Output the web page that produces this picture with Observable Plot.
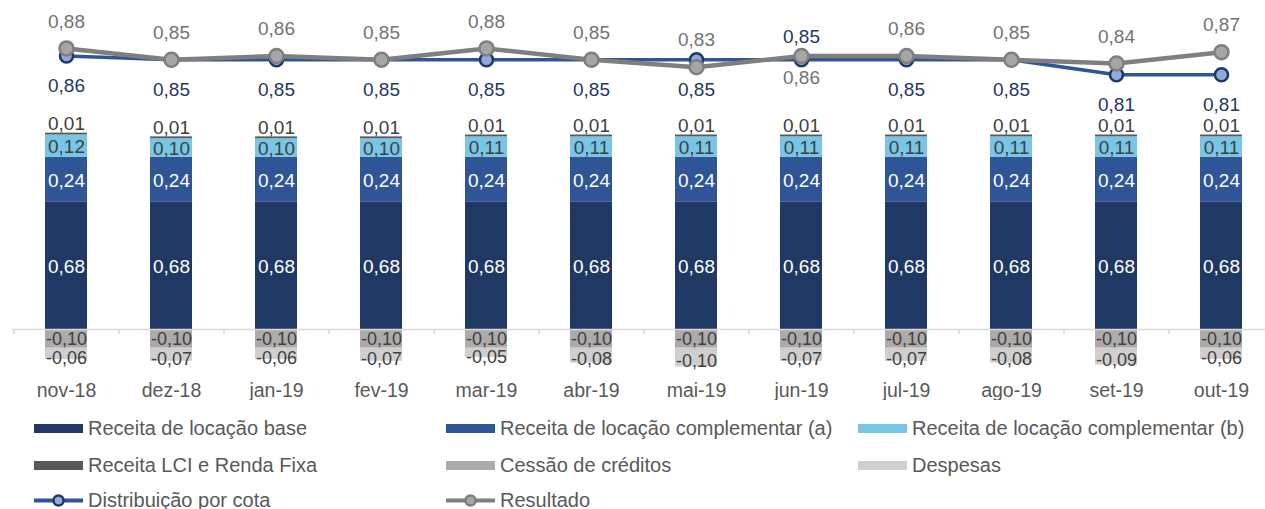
<!DOCTYPE html>
<html><head><meta charset="utf-8">
<script src="https://cdn.jsdelivr.net/npm/d3@7"></script>
<script src="https://cdn.jsdelivr.net/npm/@observablehq/plot@0.6"></script>
<style>
body{margin:0;background:#fff;font-family:"Liberation Sans",Arial,sans-serif;}
#chart{position:relative;width:1265px;height:509px;overflow:hidden;background:#fff}
#legend{position:relative;width:1265px;height:109px}
.leg{position:absolute;display:flex;align-items:center;height:26px;font-size:20px;color:#595959;white-space:nowrap}
.leg span{margin-left:5px}
</style></head><body><div id="chart"></div>
<script>
// ---- data ----
const months = ["nov-18","dez-18","jan-19","fev-19","mar-19","abr-19","mai-19","jun-19","jul-19","ago-19","set-19","out-19"];
const receitaBase = [0.68,0.68,0.68,0.68,0.68,0.68,0.68,0.68,0.68,0.68,0.68,0.68];
const receitaCompA = [0.24,0.24,0.24,0.24,0.24,0.24,0.24,0.24,0.24,0.24,0.24,0.24];
const receitaCompB = [0.12,0.10,0.10,0.10,0.11,0.11,0.11,0.11,0.11,0.11,0.11,0.11];
const receitaLCI = [0.01,0.01,0.01,0.01,0.01,0.01,0.01,0.01,0.01,0.01,0.01,0.01];
const cessaoCreditos = [-0.10,-0.10,-0.10,-0.10,-0.10,-0.10,-0.10,-0.10,-0.10,-0.10,-0.10,-0.10];
const despesas = [-0.06,-0.07,-0.06,-0.07,-0.05,-0.08,-0.10,-0.07,-0.07,-0.08,-0.09,-0.06];
const distribuicao = [0.86,0.85,0.85,0.85,0.85,0.85,0.85,0.85,0.85,0.85,0.81,0.81];
const resultado = [0.88,0.85,0.86,0.85,0.88,0.85,0.83,0.86,0.86,0.85,0.84,0.87];
const seriesNames = ["Receita de locação base","Receita de locação complementar (a)","Receita de locação complementar (b)","Receita LCI e Renda Fixa","Cessão de créditos","Despesas"];
const seriesValues = [receitaBase, receitaCompA, receitaCompB, receitaLCI, cessaoCreditos, despesas];
const seriesColors = ["#1F3864","#2F5597","#78C6E6","#595959","#AEAAAA","#D0CECE"];
const labelColors = ["#FFFFFF","#FFFFFF","#404040",null,null,null];
const lineNames = ["Distribuição por cota","Resultado"];
const flippedLabelMonths = ["jun-19"];

// ---- build ----
const fmt = v => v.toFixed(2).replace(".", ",");
const rows = [];
seriesNames.forEach((s, k) => months.forEach((m, i) => rows.push({month: m, k, serie: s, value: seriesValues[k][i]})));
const posRows = rows.filter(d => d.value >= 0);
const idx = d3.range(months.length);
const topOf = i => receitaBase[i] + receitaCompA[i] + receitaCompB[i] + receitaLCI[i];
// secondary (line) axis mapped onto the bar axis
const ls = d3.scaleLinear().domain([0.81, 0.88]).range([1.362, 1.503]);
const normal = idx.filter(i => !flippedLabelMonths.includes(months[i]));
const flipped = idx.filter(i => flippedLabelMonths.includes(months[i]));

const plot = Plot.plot({
  width: 1265, height: 400,
  marginLeft: 12, marginRight: 0, marginTop: 0, marginBottom: 17,
  style: {fontFamily: "'Liberation Sans', Arial, sans-serif", fontSize: "19px", background: "white", color: "#595959"},
  x: {type: "band", domain: months, range: [13.5, 1273.5], paddingInner: 0.6, paddingOuter: 0.3, align: 0.5, label: null},
  y: {domain: [0, 1], range: [329, 142], axis: null},
  color: {type: "identity"},
  marks: [
    Plot.barY(rows, {x: "month", y: "value", z: "serie", fill: d => seriesColors[d.k]}),
    Plot.ruleY([0], {stroke: "#D9D9D9", strokeWidth: 1.5}),
    Plot.ruleX(months, {x: d => d, y1: 0, y2: -0.028, dx: -52.5, stroke: "#D9D9D9", strokeWidth: 1.5}),
    Plot.text(posRows, Plot.stackY({x: "month", y: "value", z: "serie",
      text: d => labelColors[d.k] ? fmt(d.value) : null,
      fill: d => labelColors[d.k] || "#404040", dy: 1})),
    Plot.text(idx, {x: i => months[i], y: i => topOf(i), text: i => fmt(receitaLCI[i]), fill: "#404040", dy: -9}),
    // negative stack labels
    Plot.text(idx, {x: i => months[i], y: i => cessaoCreditos[i] / 2, text: i => fmt(cessaoCreditos[i]), fill: "#404040", fontSize: 18, dy: 0}),
    Plot.text(idx, {x: i => months[i], y: i => cessaoCreditos[i] + despesas[i] / 2, text: i => fmt(despesas[i]), fill: "#404040", fontSize: 18, dy: 4}),
    Plot.axisX({tickSize: 0, tickPadding: 0, fontSize: 19.5, label: null}),
    // Distribuição por cota
    Plot.line(idx, {x: i => months[i], y: i => ls(distribuicao[i]), stroke: "#2F5597", strokeWidth: 3.5}),
    Plot.dot(idx, {x: i => months[i], y: i => ls(distribuicao[i]), r: 6.5, fill: "#8FAADC", stroke: "#1F3864", strokeWidth: 2.5}),
    // Resultado
    Plot.line(idx, {x: i => months[i], y: i => ls(resultado[i]), stroke: "#7F7F7F", strokeWidth: 4.5}),
    Plot.dot(idx, {x: i => months[i], y: i => ls(resultado[i]), r: 7, fill: "#A6A6A6", stroke: "#7F7F7F", strokeWidth: 2.5}),
    Plot.text(normal, {x: i => months[i], y: i => ls(resultado[i]), text: i => fmt(resultado[i]), fill: "#737373", dy: -27}),
    Plot.text(flipped, {x: i => months[i], y: i => ls(resultado[i]), text: i => fmt(resultado[i]), fill: "#737373", dy: 22}),
    Plot.text(normal, {x: i => months[i], y: i => ls(distribuicao[i]), text: i => fmt(distribuicao[i]), fill: "#1F3864", dy: 30}),
    Plot.text(flipped, {x: i => months[i], y: i => ls(distribuicao[i]), text: i => fmt(distribuicao[i]), fill: "#1F3864", dy: -23})
  ]
});
const chart = document.getElementById("chart");
chart.appendChild(plot);

// ---- legend ----
const legend = document.createElement("div");
legend.id = "legend";
const legItems = [
  {name: seriesNames[0], type: "bar", color: seriesColors[0], col: 0, row: 0},
  {name: seriesNames[1], type: "bar", color: seriesColors[1], col: 1, row: 0},
  {name: seriesNames[2], type: "bar", color: seriesColors[2], col: 2, row: 0},
  {name: seriesNames[3], type: "bar", color: seriesColors[3], col: 0, row: 1},
  {name: seriesNames[4], type: "bar", color: seriesColors[4], col: 1, row: 1},
  {name: seriesNames[5], type: "bar", color: seriesColors[5], col: 2, row: 1},
  {name: lineNames[0], type: "line", color: "#2F5597", fill: "#8FAADC", mstroke: "#1F3864", col: 0, row: 2},
  {name: lineNames[1], type: "line", color: "#7F7F7F", fill: "#A6A6A6", mstroke: "#7F7F7F", col: 1, row: 2}
];
const colX = [34, 446, 858];
const rowY = [15, 52, 87];
for (const it of legItems) {
  const d = document.createElement("div");
  d.className = "leg";
  d.style.left = colX[it.col] + "px";
  d.style.top = rowY[it.row] + "px";
  const sw = it.type === "bar"
    ? `<svg width="49" height="26"><rect x="0" y="9" width="49" height="9" fill="${it.color}"/></svg>`
    : `<svg width="49" height="26"><line x1="0" x2="49" y1="13.5" y2="13.5" stroke="${it.color}" stroke-width="4"/><circle cx="24.5" cy="13.5" r="5" fill="${it.fill}" stroke="${it.mstroke}" stroke-width="2.5"/></svg>`;
  d.innerHTML = sw + `<span>${it.name}</span>`;
  legend.appendChild(d);
}
chart.appendChild(legend);
</script>
</body></html>
